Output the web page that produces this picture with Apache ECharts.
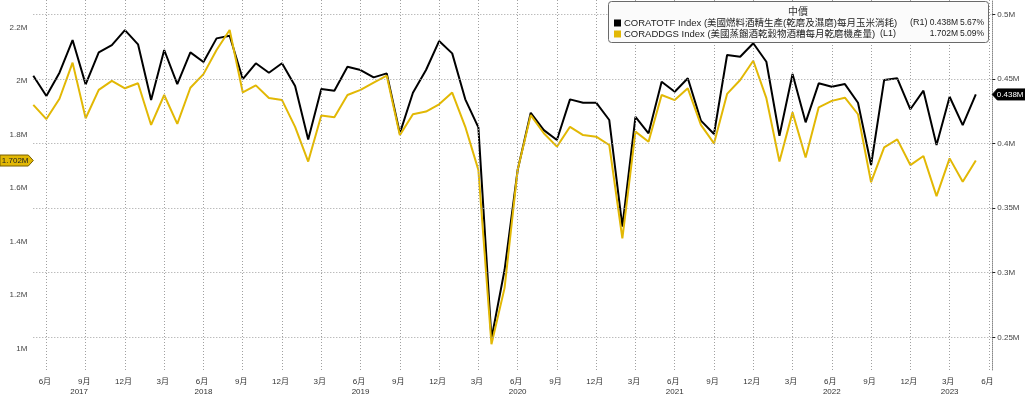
<!DOCTYPE html>
<html><head><meta charset="utf-8">
<script src="https://cdn.jsdelivr.net/npm/echarts@6/dist/echarts.min.js"></script>
<style>html,body{margin:0;padding:0;background:#fff}#c{width:1025px;height:398px}</style>
</head><body><div id="c"></div>
<script>
// Monthly series, May 2017 (index 0) .. May 2023 (index 72)
const startLabel = '2017-05';
// CORATOTF Index (R1) – monthly corn consumption, millions
const coratotf = [0.4525,0.4368,0.4548,0.4801,0.4458,0.4706,0.4762,0.4878,0.4768,0.4337,0.4724,0.4460,0.4706,0.4631,0.4814,0.4834,0.4499,0.4621,0.4548,0.4621,0.4445,0.4032,0.4422,0.4409,0.4594,0.4569,0.4512,0.4543,0.4079,0.4393,0.4569,0.4793,0.4698,0.4342,0.4125,0.2490,0.3021,0.3795,0.4238,0.4104,0.4027,0.4342,0.4316,0.4316,0.4182,0.3356,0.4207,0.4079,0.4478,0.4401,0.4505,0.4177,0.4074,0.4685,0.4672,0.4776,0.4633,0.4060,0.4538,0.4164,0.4466,0.4440,0.4460,0.4316,0.3834,0.4492,0.4505,0.4265,0.4409,0.3988,0.4362,0.4143,0.4380];
// CORADDGS Index (L1) – monthly DDGS output, millions
const coraddgs = [1.910,1.857,1.933,2.068,1.860,1.966,2.000,1.972,1.991,1.835,1.947,1.839,1.974,2.025,2.115,2.190,1.957,1.983,1.936,1.928,1.828,1.698,1.870,1.864,1.947,1.966,1.993,2.019,1.797,1.875,1.885,1.912,1.956,1.828,1.667,1.015,1.225,1.667,1.872,1.804,1.754,1.828,1.797,1.791,1.760,1.411,1.810,1.772,1.947,1.928,1.972,1.835,1.766,1.951,2.003,2.075,1.935,1.698,1.882,1.713,1.901,1.925,1.937,1.875,1.621,1.751,1.781,1.685,1.719,1.569,1.710,1.623,1.702];

// tick labels
const xTickIndex  = [1,4,7,10,13,16,19,22,25,28,31,34,37,40,43,46,49,52,55,58,61,64,67,70,73];
const xTickLabels = ['6月','9月','12月','3月','6月','9月','12月','3月','6月','9月','12月','3月','6月','9月','12月','3月','6月','9月','12月','3月','6月','9月','12月','3月','6月'];
const yearIndex  = [3.5,13,25,37,49,61,70];
const yearLabels = ['2017','2018','2019','2020','2021','2022','2023'];
const leftTicks  = [1,1.2,1.4,1.6,1.8,2,2.2];
const leftLabels = ['1M','1.2M','1.4M','1.6M','1.8M','2M','2.2M'];
const rightTicks  = [0.25,0.3,0.35,0.4,0.45,0.5];
const rightLabels = ['0.25M','0.3M','0.35M','0.4M','0.45M','0.5M'];
const legendTitle = '中價';
const legendRows = [
  {name:'CORATOTF Index (美國燃料酒精生產(乾磨及濕磨)每月玉米消耗)', axis:'(R1)', last:'0.438M', chg:'5.67%'},
  {name:'CORADDGS Index (美國蒸餾酒乾穀物酒糟每月乾磨機產量)', axis:'(L1)', last:'1.702M', chg:'5.09%'}
];

const FONT = "'Liberation Sans', Arial, 'Noto Sans CJK TC', sans-serif";
const NFONT = "'Liberation Sans Narrow', 'Liberation Sans', Arial, sans-serif";
const YEL = '#e2b804';
const pick = (vals, labels) => v => { const k = vals.findIndex(t => Math.abs(t - v) < 1e-6); return k < 0 ? '' : labels[k]; };

const chart = echarts.init(document.getElementById('c'), null, {renderer:'canvas'});
const XMAX = 73.26;
const noLine = {show:false, onZero:false};
const option = {
  animation: false,
  backgroundColor: '#fff',
  grid: {left: 33.3, right: 32.7, top: 0, bottom: 28, show:false},
  xAxis: [
    {type:'value', min:0, max:XMAX, axisLine:noLine, axisTick:{show:false}, splitLine:{show:false},
     axisLabel:{customValues:xTickIndex, formatter:pick(xTickIndex,xTickLabels), fontSize:8, color:'#333', margin:8, fontFamily:FONT, padding:[0,3,0,0]}},
    {type:'value', min:0, max:XMAX, position:'bottom', offset:10, axisLine:noLine, axisTick:{show:false}, splitLine:{show:false},
     axisLabel:{customValues:yearIndex, formatter:pick(yearIndex,yearLabels), fontSize:8, color:'#333', margin:8, fontFamily:FONT}}
  ],
  yAxis: [
    {type:'value', position:'left', min:0.9189, max:2.3021, axisLine:noLine, axisTick:{show:false}, splitLine:{show:false},
     axisLabel:{customValues:leftTicks, formatter:pick(leftTicks,leftLabels), fontSize:8, color:'#444', margin:6, fontFamily:FONT}},
    {type:'value', position:'right', min:0.2247, max:0.5111, splitLine:{show:false},
     axisLine:{show:true, onZero:false, lineStyle:{color:'#888', width:1, type:[1,1]}},
     axisTick:{show:true, customValues:rightTicks, length:3, inside:false, lineStyle:{color:'#222', width:1}},
     axisLabel:{customValues:rightTicks, formatter:pick(rightTicks,rightLabels), fontSize:8, color:'#444', margin:5, fontFamily:FONT}}
  ],
  series: [
    {type:'line', name:'grid', xAxisIndex:0, yAxisIndex:1, data:[[0,0.3]], showSymbol:false, symbol:'none', lineStyle:{opacity:0}, silent:true, z:1,
     markLine:{silent:true, symbol:'none', label:{show:false}, animation:false,
       lineStyle:{color:'#a0a0a0', type:[1,2], width:1},
       data:[...rightTicks.map(v=>({yAxis:v})), ...xTickIndex.map(v=>({xAxis:v}))]}},
    {type:'line', name:'CORATOTF', xAxisIndex:0, yAxisIndex:1, data:coratotf.map((v,i)=>[i,v]), showSymbol:false, symbol:'none',
     lineStyle:{color:'#000', width:2}, z:3},
    {type:'line', name:'CORADDGS', xAxisIndex:0, yAxisIndex:0, data:coraddgs.map((v,i)=>[i,v]), showSymbol:false, symbol:'none',
     lineStyle:{color:YEL, width:2}, z:4}
  ]
};
chart.setOption(option);

// value tags & legend
const ly = chart.convertToPixel({yAxisIndex:0}, coraddgs[coraddgs.length-1]);
const ry = chart.convertToPixel({yAxisIndex:1}, coratotf[coratotf.length-1]);
const gx0 = chart.convertToPixel({xAxisIndex:0}, 0);
const gx1 = chart.convertToPixel({xAxisIndex:0}, XMAX);
const h = 5.5;
const txt = (x,y,t,opt) => ({type:'text', x, y, z:101, style:Object.assign({text:t, fontSize:9.5, fontFamily:FONT, fill:'#222', verticalAlign:'middle', align:'left'}, opt||{})});
chart.setOption({graphic:[
  {type:'polygon', z:100, shape:{points:[[0,ly-h],[gx0-5,ly-h],[gx0,ly],[gx0-5,ly+h],[0,ly+h]]}, style:{fill:YEL, stroke:'#7a6000', lineWidth:1}},
  {type:'text', z:101, x:(gx0-3)/2, y:ly, style:{text:legendRows[1].last, fontSize:8, fontFamily:FONT, fill:'#222', align:'center', verticalAlign:'middle'}},
  {type:'polygon', z:100, shape:{points:[[gx1,ry],[gx1+5,ry-h],[1025,ry-h],[1025,ry+h],[gx1+5,ry+h]]}, style:{fill:'#000', stroke:'#000', lineWidth:1}},
  {type:'text', z:101, x:(gx1+3+1025)/2, y:ry, style:{text:legendRows[0].last, fontSize:8, fontFamily:FONT, fill:'#fff', align:'center', verticalAlign:'middle'}},
  {type:'rect', z:100, shape:{x:608.5, y:1.5, width:380, height:41, r:3}, style:{fill:'#fbfbfb', stroke:'#6a6a6a', lineWidth:1}},
  txt(798, 12, legendTitle, {align:'center', fontSize:10, fill:'#333'}),
  {type:'rect', z:101, shape:{x:614, y:19.5, width:7, height:7}, style:{fill:'#000'}},
  txt(624, 23, legendRows[0].name),
  txt(910, 23, legendRows[0].axis, {fontSize:9}),
  txt(958, 23, legendRows[0].last, {align:'right', fontSize:8.5, fontFamily:NFONT}),
  txt(984, 23, legendRows[0].chg, {align:'right', fontSize:8.5, fontFamily:NFONT}),
  {type:'rect', z:101, shape:{x:614, y:30.5, width:7, height:7}, style:{fill:YEL}},
  txt(624, 34, legendRows[1].name),
  txt(880, 34, legendRows[1].axis, {fontSize:9}),
  txt(958, 34, legendRows[1].last, {align:'right', fontSize:8.5, fontFamily:NFONT}),
  txt(984, 34, legendRows[1].chg, {align:'right', fontSize:8.5, fontFamily:NFONT})
]});
</script></body></html>
